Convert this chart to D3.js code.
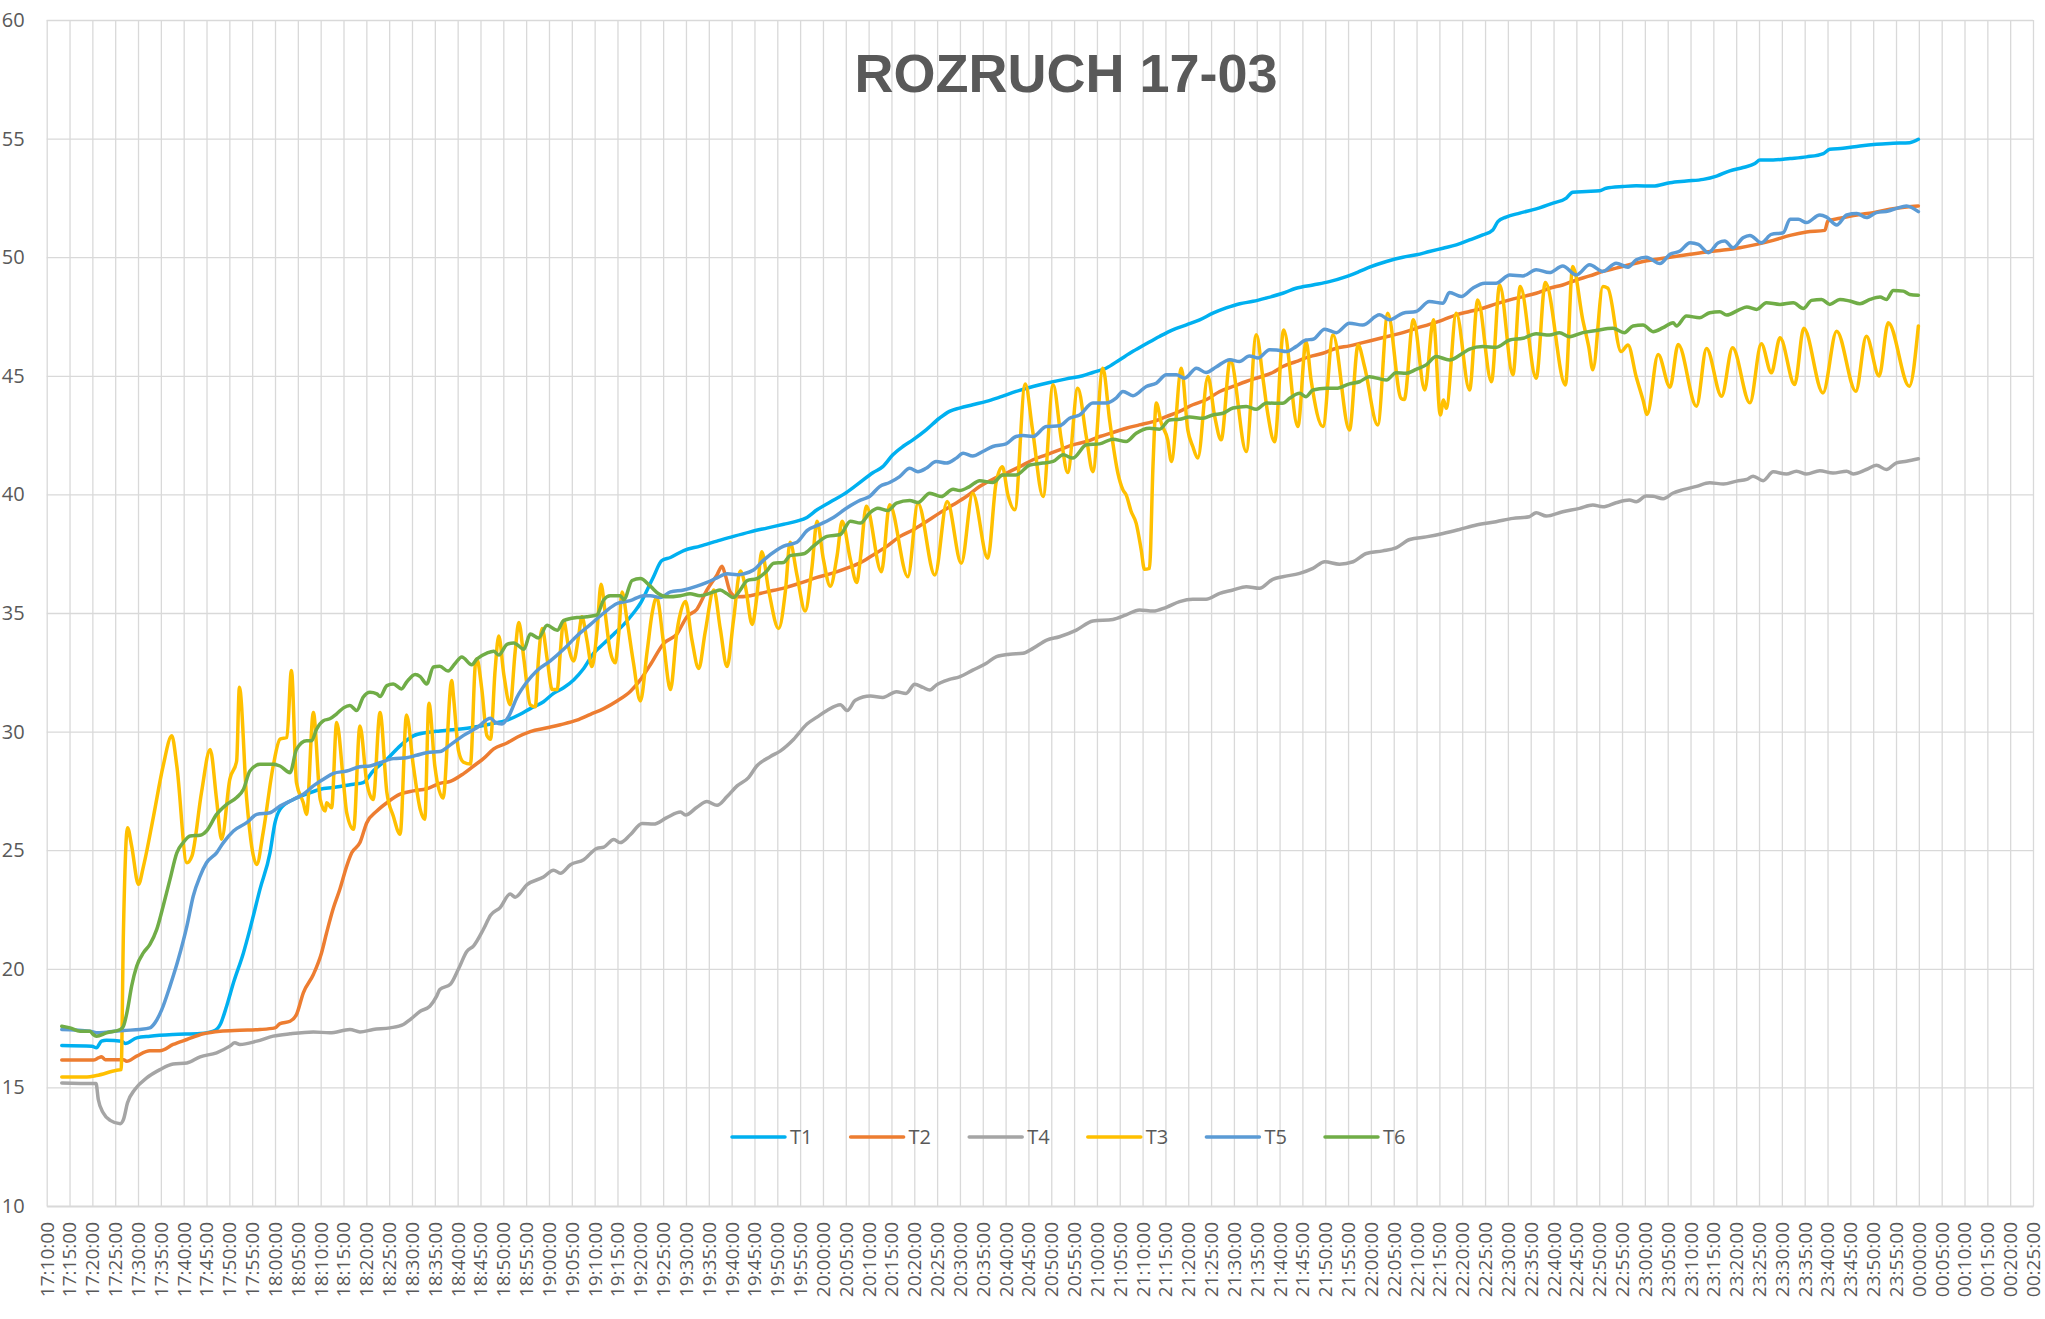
<!DOCTYPE html>
<html><head><meta charset="utf-8">
<script src="https://cdn.jsdelivr.net/npm/d3@7"></script>
<style>html,body{margin:0;padding:0;background:#fff;} svg{display:block}</style>
</head><body>
<svg id="chart" width="2045" height="1319"></svg>
<script>
// ---------------- DATA ----------------
const chartTitle = "ROZRUCH 17-03";
const axisStart = "17:10:00";      // first category label
const axisEnd = "00:25:00";        // last category label (next day)
const tickStepMinutes = 5;
const yTickValues = [10, 15, 20, 25, 30, 35, 40, 45, 50, 55, 60];
const seriesOrder = ["T1", "T2", "T4", "T3", "T5", "T6"];

// each point: [minutes after 17:10:00, temperature]
const T1 = [[3.3,16.77],[9.9,16.74],[10.9,16.67],[12,16.95],[13.1,16.99],[16.4,16.95],[17.2,16.85],[19.7,17.09],[22.6,17.16],[27.7,17.23],[33.6,17.27],[36.5,17.37],[38,17.65],[39.4,18.42],[40.9,19.41],[43.1,20.68],[44.5,21.66],[46.7,23.35],[48.9,24.89],[50,26.16],[51.1,26.72],[54,27.14],[56.9,27.36],[59.9,27.57],[62.8,27.64],[67.2,27.78],[69.3,27.85],[71.5,28.34],[74.5,28.83],[77.4,29.4],[80.3,29.82],[83.2,29.96],[86.1,30.03],[92.8,30.16],[97.2,30.32],[100.8,30.48],[103.7,30.73],[105.9,30.97],[108.8,31.26],[111,31.61],[113.2,31.85],[115.4,32.18],[117.6,32.66],[119.8,33.31],[122,33.71],[124.2,34.11],[126.4,34.52],[128.5,35.0],[130,35.4],[131.5,35.97],[132.9,36.53],[134.7,37.21],[136.6,37.34],[139.5,37.63],[143.1,37.82],[146.8,38.03],[150.4,38.23],[154.1,38.42],[157.7,38.58],[161.4,38.74],[164.3,38.87],[166.5,39.03],[168.7,39.35],[171.6,39.68],[174.5,40.0],[177.4,40.4],[181,40.92],[183.1,41.17],[185.3,41.67],[187.5,42.02],[189.7,42.3],[192.6,42.72],[195.5,43.21],[197.7,43.5],[199.9,43.64],[202.8,43.78],[205.8,43.92],[208.7,44.1],[212.3,44.34],[216,44.55],[219.6,44.72],[223.3,44.87],[226.9,45.0],[229.1,45.14],[232,45.32],[235,45.68],[237.9,46.03],[240.8,46.35],[243.7,46.66],[246.6,46.94],[249.6,47.15],[252.5,47.36],[255.4,47.64],[258.3,47.86],[261.3,48.04],[264.2,48.14],[267.1,48.28],[270.7,48.48],[273.6,48.69],[277.3,48.83],[280.9,48.97],[284.6,49.18],[287.5,49.4],[289.7,49.58],[293.4,49.82],[297,50.0],[300,50.1],[302.8,50.24],[305.8,50.38],[308.7,50.52],[311.6,50.73],[314.5,50.94],[316.7,51.15],[317.8,51.5],[319.6,51.69],[322.6,51.86],[326.2,52.04],[329.9,52.28],[332.8,52.49],[334.2,52.74],[337.2,52.77],[340.1,52.8],[341.5,52.91],[345.2,52.98],[348.1,53.01],[351.8,53.0],[355.5,53.14],[359.1,53.21],[362.8,53.28],[365.7,53.42],[368.6,53.64],[371.5,53.78],[374.1,53.95],[375.2,54.1],[378.1,54.1],[381.8,54.16],[385.4,54.23],[389.1,54.37],[390.5,54.55],[393.4,54.59],[397.1,54.69],[400.7,54.76],[404.4,54.8],[408,54.83],[409.9,54.97]];

const T2 = [[3.3,16.15],[10.2,16.15],[11.3,16.24],[12,16.29],[12.8,16.17],[16.8,16.17],[17.5,16.1],[19.7,16.32],[22.6,16.55],[24.8,16.55],[27.7,16.81],[30.7,17.02],[34.3,17.26],[38,17.37],[42.3,17.41],[46.7,17.44],[50,17.51],[51.1,17.69],[53.3,17.79],[54.7,18.07],[56.2,18.99],[58.4,19.76],[60.2,20.68],[61.3,21.52],[62.8,22.57],[64.2,23.35],[65.7,24.33],[66.8,24.89],[68.6,25.32],[70.1,26.16],[72.3,26.65],[74.5,27.0],[77.4,27.36],[80.3,27.5],[83.2,27.59],[86.1,27.82],[88.4,27.9],[91.3,28.23],[93.5,28.55],[95.7,28.87],[97.9,29.27],[100.8,29.52],[103,29.76],[105.9,30.0],[109.6,30.16],[112.5,30.29],[116.1,30.48],[119.1,30.73],[122,30.97],[124.9,31.29],[127.8,31.69],[130,32.18],[132.2,32.82],[135.1,33.71],[138,34.11],[140.2,34.84],[142.4,35.16],[144.6,35.97],[146.8,36.61],[147.9,36.97],[148.6,36.61],[149.7,35.89],[151.2,35.68],[154.1,35.73],[157.7,35.89],[161.4,36.05],[165,36.26],[168.7,36.5],[172.3,36.69],[176,36.94],[178,37.1],[181,37.45],[183.9,37.8],[186.8,38.22],[189.7,38.5],[192.6,38.85],[195.5,39.21],[198.5,39.56],[201.4,39.91],[204.3,40.33],[207.2,40.64],[210.1,40.89],[213.1,41.17],[216,41.46],[218.9,41.67],[221.8,41.88],[224.7,42.09],[227.7,42.23],[230.6,42.44],[233.5,42.61],[236.4,42.79],[239.3,42.93],[242.3,43.07],[245.2,43.28],[248.1,43.5],[251,43.78],[253.9,43.99],[256.9,44.34],[259.8,44.55],[262.7,44.76],[265.6,44.94],[268.5,45.14],[270.7,45.39],[273.6,45.6],[276.6,45.81],[279.5,45.95],[282.4,46.16],[285.3,46.26],[288.2,46.4],[291.2,46.54],[294.1,46.68],[297,46.82],[299.9,47.0],[302.8,47.17],[305.8,47.36],[308.7,47.57],[311.6,47.71],[314.5,47.85],[317.4,48.03],[320.4,48.2],[323.3,48.34],[326.2,48.48],[329.1,48.69],[332,48.83],[335,49.04],[337.9,49.21],[340.8,49.4],[343.7,49.54],[346.6,49.68],[349.6,49.82],[352.6,49.91],[356.2,50.02],[359.9,50.12],[363.5,50.22],[367.2,50.3],[370.8,50.4],[374.5,50.54],[378.1,50.71],[381.8,50.92],[385.4,51.06],[389.4,51.13],[390.1,51.53],[392.7,51.64],[396.4,51.78],[400,51.88],[403.6,52.02],[407.3,52.12],[409.9,52.16]];

const T4 = [[3.3,15.19],[10.2,15.16],[10.8,15.16],[11.3,14.49],[12.4,13.92],[13.9,13.61],[16.1,13.47],[16.8,13.64],[17.7,14.35],[19.3,14.91],[21.9,15.4],[24.8,15.75],[27.7,15.99],[30.7,16.03],[33.6,16.29],[37.2,16.46],[40.1,16.74],[41.2,16.88],[42.3,16.81],[46,16.95],[49.6,17.16],[53.3,17.26],[58.4,17.34],[62,17.3],[66.4,17.44],[68.6,17.34],[71.5,17.44],[75.2,17.51],[78.1,17.65],[79.6,17.86],[81.8,18.21],[83.9,18.42],[85.4,18.85],[86.1,19.13],[88.4,19.35],[90.2,20.0],[92,20.73],[93.5,20.97],[95.7,21.69],[97.2,22.26],[99.3,22.58],[101.5,23.15],[102.6,23.02],[105.2,23.55],[108.8,23.87],[111,24.16],[112.5,24.03],[114.7,24.39],[117.6,24.6],[120.5,25.08],[122,25.13],[124.2,25.45],[125.6,25.32],[127.8,25.65],[130.4,26.13],[132.9,26.1],[135.8,26.37],[138.8,26.61],[139.9,26.48],[142.4,26.81],[144.6,27.05],[146.8,26.89],[149,27.26],[151.2,27.71],[153.7,28.06],[155.5,28.55],[158.5,28.95],[160.7,29.19],[163.6,29.68],[166.5,30.32],[168.7,30.61],[170.9,30.89],[173.8,31.13],[175.3,30.89],[177.1,31.32],[180.4,31.5],[183.1,31.44],[186.1,31.68],[188.2,31.61],[190.1,32.0],[191.9,31.86],[193.4,31.75],[194.8,31.96],[197.7,32.2],[199.9,32.31],[202.8,32.59],[205.8,32.88],[208,33.16],[210.9,33.26],[213.8,33.3],[216,33.51],[219,33.86],[221.8,34.0],[225.5,34.28],[229.1,34.66],[233.5,34.73],[236.4,34.92],[239.3,35.13],[242.3,35.08],[245.2,35.24],[248.1,35.48],[251,35.58],[253.9,35.58],[256.9,35.83],[259.8,35.97],[262.7,36.11],[265.6,36.04],[268.5,36.42],[270.7,36.53],[274.4,36.67],[277.3,36.88],[279.9,37.16],[283.1,37.06],[286.1,37.16],[289,37.51],[292.6,37.62],[295.5,37.75],[298.5,38.1],[302.1,38.21],[305.8,38.35],[309.4,38.52],[313.1,38.71],[317.4,38.85],[321.1,38.99],[324.7,39.06],[326.2,39.23],[328.4,39.09],[332,39.27],[335.7,39.41],[338.6,39.55],[340.8,39.48],[343.7,39.65],[346.6,39.76],[348.1,39.69],[350.3,39.93],[351.8,39.92],[354,39.82],[356.2,40.06],[358.4,40.2],[361.3,40.34],[364.2,40.49],[367.2,40.44],[370.1,40.56],[372.3,40.63],[373.7,40.77],[375.9,40.58],[378.1,40.95],[381,40.86],[383.2,40.98],[385.4,40.86],[388.3,41.0],[391.2,40.9],[394.2,40.98],[395.6,40.86],[398.5,41.05],[400.7,41.23],[402.9,41.05],[405.1,41.33],[407.3,41.4],[409.9,41.5]];

const T3 = [[3.3,15.44],[8.8,15.44],[10.9,15.5],[15.3,15.72],[16.3,15.75],[16.8,21.52],[17.7,25.95],[18.6,25.18],[20.1,23.56],[21.2,24.33],[23.4,26.44],[25.5,28.55],[27.4,29.82],[28.5,28.55],[30.7,24.47],[31.8,24.75],[33.9,27.43],[35.8,29.25],[37.2,27.14],[38.3,25.46],[40.1,27.99],[41.6,28.76],[42.2,31.87],[43.8,27.14],[46,24.4],[47.4,25.74],[49.6,28.55],[51.1,29.68],[52.6,29.75],[53.6,32.58],[54.7,27.85],[56.2,27.0],[56.9,26.51],[58.4,30.8],[59.9,27.14],[61,26.65],[61.3,27.0],[62.4,26.79],[63.5,30.38],[65,27.85],[65.7,26.58],[67.2,25.88],[68.6,30.24],[70.1,27.85],[71.5,27.14],[73,30.8],[74.5,27.43],[75.9,26.44],[77.4,25.67],[78.8,30.7],[80.3,28.55],[81.8,26.72],[82.8,26.3],[83.7,31.2],[85,28.55],[86.8,27.2],[88.7,32.15],[89.1,31.45],[90.2,29.19],[91.3,28.71],[92.8,28.63],[93.9,32.9],[94.2,33.06],[95.3,31.77],[96.4,29.84],[97.2,29.68],[98.2,32.58],[99,34.03],[100.1,32.42],[101.5,31.13],[102.6,33.39],[103.4,34.6],[104.5,33.06],[105.9,31.13],[107,31.05],[107.7,33.06],[108.5,34.35],[109.6,33.06],[110.7,31.77],[111.8,31.77],[112.5,33.39],[113.2,34.68],[114.3,33.55],[115.4,32.98],[116.5,34.03],[117.2,34.84],[118.3,33.87],[119.4,32.74],[120.5,34.19],[121.4,36.21],[122.3,35.0],[123.4,33.39],[124.5,32.9],[125.3,34.19],[126,35.89],[127.1,34.68],[128.5,32.9],[130,31.29],[131.5,33.39],[132.6,35.0],[133.6,35.65],[135.1,33.71],[136.6,31.77],[138,34.19],[139.9,35.48],[141.3,33.87],[142.8,32.66],[144.2,34.19],[146.1,35.97],[147.5,34.35],[149,32.74],[150.4,34.68],[151.9,36.77],[153,36.13],[154.5,34.52],[155.5,35.65],[156.6,37.58],[158.1,35.97],[160.3,34.35],[161.8,35.97],[162.8,37.98],[164.3,36.61],[166.1,35.08],[167.6,36.94],[168.7,38.87],[170.1,37.26],[171.6,36.13],[173.1,37.42],[174.2,38.87],[176,37.26],[177.4,36.29],[178.2,37.3],[179.5,39.5],[182.8,36.74],[184.6,39.56],[188.6,36.53],[190.8,39.63],[194.5,36.6],[197.2,39.7],[200.3,37.1],[202.8,40.05],[206.1,37.31],[207.9,40.47],[209.3,41.17],[210.5,39.98],[212,39.35],[214.3,44.65],[215.9,42.72],[218.2,39.91],[220.4,44.62],[222.2,42.3],[223.6,40.92],[225.8,44.48],[227.7,42.4],[229.1,40.96],[231.3,45.32],[232.8,43.1],[234.6,40.89],[235.7,40.19],[236.4,39.98],[237.5,39.28],[238.6,38.78],[239.7,37.66],[240.4,36.84],[241.5,36.88],[242.3,41.32],[243,43.85],[244.1,43.0],[245.5,42.3],[246.3,41.39],[248.5,45.32],[249.9,42.72],[251,42.02],[252.1,41.53],[254.3,44.97],[255.8,43.28],[257.2,42.3],[259.2,45.68],[262.7,41.81],[264.9,46.73],[266.4,44.83],[267.4,43.42],[268.9,42.22],[270.9,46.93],[274,42.86],[275.8,46.44],[276.9,44.82],[279.5,42.86],[281.7,46.72],[285.3,42.71],[287.2,46.3],[288.6,45.39],[291.5,42.93],[293.7,47.64],[296.6,44.05],[297.3,44.0],[299.3,47.36],[301.8,44.4],[303.7,47.36],[305.2,43.35],[305.9,43.98],[306.5,43.63],[308.7,47.64],[311.6,44.4],[313.4,48.2],[316.4,44.75],[318.2,48.83],[321.1,45.04],[322.7,48.76],[326.2,44.9],[328.2,48.93],[332.6,44.61],[334.2,49.61],[336.4,47.36],[337.7,46.23],[338.6,45.25],[340.8,48.76],[341.9,48.69],[344.8,46.02],[346.3,46.3],[348.1,44.96],[349.6,43.98],[350.5,43.37],[352.9,45.9],[355.5,44.52],[357.3,46.32],[361.3,43.72],[363.5,46.15],[366.8,44.14],[369.2,46.18],[373,43.86],[375.5,46.35],[377.7,45.13],[379.6,46.6],[382.8,44.63],[384.8,47.0],[389,44.28],[392,46.88],[396.2,44.35],[398.5,46.67],[401.3,44.99],[403.3,47.24],[407.9,44.56],[409.9,47.1]];

const T5 = [[3.3,17.44],[9.5,17.37],[10.9,17.3],[13.1,17.33],[16.8,17.4],[20.4,17.44],[22.6,17.51],[23.7,17.72],[25.2,18.28],[27,19.27],[28.8,20.39],[30.7,21.8],[32.1,23.07],[33.6,23.91],[35,24.47],[37.2,24.89],[38.7,25.32],[40.9,25.81],[43.8,26.16],[46,26.51],[48.9,26.58],[51.1,26.86],[54,27.14],[56.2,27.36],[58.4,27.71],[60.6,27.99],[62.8,28.24],[65.7,28.34],[68.6,28.52],[70.8,28.55],[73,28.69],[75.9,28.86],[78.8,28.9],[81,29.0],[83.2,29.11],[86.1,29.16],[88.4,29.44],[91.3,29.84],[94.2,30.16],[97.2,30.56],[98.2,30.4],[99.7,30.32],[101.2,30.65],[103,31.45],[105.2,32.1],[107.4,32.58],[110.3,32.98],[113.2,33.47],[116.1,34.03],[119.1,34.52],[122,35.0],[124.9,35.4],[127.8,35.52],[130.7,35.73],[132.2,35.73],[134.4,35.65],[136.6,35.89],[139.5,35.97],[142.4,36.13],[144.6,36.29],[146.8,36.48],[149,36.65],[151.2,36.61],[152.6,36.65],[154.8,36.81],[157,37.23],[159.9,37.66],[161.4,37.82],[164.3,37.98],[166.5,38.47],[169.4,38.74],[172.3,39.03],[175.3,39.44],[178.2,39.76],[180.2,39.91],[182.4,40.33],[184.6,40.5],[186.8,40.75],[189,41.1],[190.8,40.96],[192.6,41.1],[194.8,41.39],[197,41.32],[199.2,41.53],[200.7,41.74],[202.8,41.62],[205,41.81],[207.2,42.02],[210.1,42.13],[212.3,42.44],[213.8,42.48],[216,42.44],[218.9,42.86],[221.8,42.89],[224,43.21],[226.2,43.35],[229.1,43.85],[232,43.85],[234.2,44.06],[235.7,44.34],[237.9,44.16],[240.8,44.55],[243,44.69],[245.2,45.04],[247.4,45.04],[249.2,44.9],[251.8,45.32],[253.9,45.14],[256.1,45.37],[259.1,45.68],[261.2,45.6],[263.4,45.84],[265.3,45.75],[267.8,46.1],[269.3,46.09],[271.5,46.02],[273.6,46.23],[275.8,46.51],[277.3,46.54],[279.9,46.96],[282.4,46.82],[285.3,47.22],[288.2,47.14],[291.9,47.57],[294.1,47.36],[297,47.64],[299.9,47.71],[302.8,48.13],[305.8,48.06],[307.2,48.51],[309.8,48.34],[312.3,48.69],[314.9,48.9],[317.4,48.9],[320.4,49.25],[323.3,49.21],[326.2,49.47],[329.1,49.35],[332,49.63],[335,49.25],[337.9,49.68],[340.8,49.4],[343.7,49.75],[346.3,49.58],[348.1,49.89],[350.3,50.0],[353.3,49.73],[355.5,50.12],[357.7,50.26],[359.9,50.61],[361.7,50.54],[363.9,50.19],[366.1,50.61],[367.5,50.68],[369.3,50.4],[371.5,50.82],[373,50.92],[375.5,50.61],[377.7,50.96],[380.3,51.03],[381.8,51.6],[383.6,51.6],[385.4,51.46],[388.3,51.78],[389.8,51.69],[392,51.36],[394.2,51.78],[396.4,51.84],[398.5,51.67],[400.7,51.88],[403.3,51.95],[405.1,52.06],[407.3,52.16],[409.9,51.92]];

const T6 = [[3.3,17.58],[5.1,17.51],[7.3,17.37],[9.5,17.37],[10.2,17.23],[10.9,17.16],[13.1,17.3],[16.1,17.44],[16.8,17.58],[17.7,18.28],[18.6,19.27],[19.7,20.11],[21.2,20.68],[22.6,21.03],[24.1,21.66],[25.5,22.64],[27,23.77],[28.5,24.89],[29.9,25.32],[31.4,25.6],[33.6,25.63],[35,25.81],[37.2,26.51],[39.4,26.93],[41.6,27.22],[43.1,27.57],[44.5,28.34],[46.7,28.62],[49.6,28.62],[51.1,28.55],[53.3,28.27],[54.7,29.25],[56.9,29.61],[58,29.61],[59.1,30.1],[60.6,30.46],[62,30.54],[63.5,30.75],[65,31.0],[66.4,31.1],[67.9,30.89],[69.3,31.45],[70.8,31.66],[72.3,31.59],[73,31.48],[74.5,31.94],[75.9,32.01],[77.7,31.8],[78.8,32.08],[80.7,32.41],[81.8,32.32],[83.2,32.01],[84.7,32.72],[86.1,32.75],[87.9,32.55],[89.4,32.86],[90.9,33.15],[93.1,32.82],[94.2,33.06],[96.4,33.31],[97.9,33.39],[99,33.23],[100.8,33.68],[102.3,33.74],[104.5,33.47],[105.9,34.11],[107.7,33.95],[109.6,34.48],[111.8,34.27],[113.2,34.68],[116.1,34.81],[118.3,34.84],[120.5,34.92],[122,35.56],[123.4,35.73],[125.6,35.73],[126.4,35.56],[128.2,36.37],[130,36.45],[132.2,36.13],[134,35.81],[135.8,35.68],[138.8,35.73],[140.9,35.81],[143.1,35.73],[146.1,35.89],[147.5,35.97],[149,35.81],[150.4,35.65],[151.9,35.97],[153.4,36.37],[155.5,36.45],[157.7,36.77],[159.2,37.1],[161.4,37.13],[162.8,37.42],[165.8,37.5],[167.9,37.82],[170.9,38.23],[173.8,38.31],[176,38.87],[178.2,38.79],[180.2,39.21],[182,39.42],[184.2,39.32],[186.1,39.63],[189,39.74],[190.8,39.66],[193.4,40.05],[195.9,39.91],[198.5,40.22],[199.9,40.16],[202.1,40.33],[204.3,40.58],[207.2,40.5],[209.4,40.82],[212.3,40.82],[215.3,41.24],[218.2,41.32],[220.4,41.39],[222.6,41.67],[224.7,41.53],[227.7,42.09],[230.6,42.13],[233.5,42.33],[236.4,42.23],[238.6,42.58],[241.5,42.79],[243.7,42.75],[245.9,43.14],[248.1,43.17],[250.3,43.26],[253.2,43.21],[255.4,43.35],[257.6,43.42],[259.8,43.64],[262.7,43.71],[264.9,43.59],[267.1,43.85],[270.7,43.84],[272.2,44.05],[274.4,44.26],[275.8,44.12],[277.3,44.4],[280.2,44.47],[282.4,44.47],[285.3,44.66],[287.5,44.75],[289.7,44.96],[293.4,44.82],[295.5,45.13],[297.7,45.11],[299.9,45.27],[302.1,45.46],[304.3,45.81],[307.2,45.67],[310.1,45.95],[311.6,46.12],[314.5,46.23],[317.4,46.2],[320.4,46.51],[323.3,46.58],[326.2,46.77],[329.1,46.72],[331.3,46.82],[333.5,46.65],[336.4,46.82],[339.3,46.91],[343,47.0],[345.5,46.82],[347.4,47.1],[349.6,47.14],[351.8,46.86],[354,47.03],[356.2,47.24],[356.9,47.1],[359.1,47.52],[362,47.45],[364.2,47.66],[366.4,47.7],[367.9,47.56],[370.8,47.8],[372.3,47.9],[374.5,47.8],[376.6,48.08],[379.6,48.01],[382.5,48.08],[384.7,47.84],[386.5,48.18],[388.7,48.22],[390.5,48.01],[392.7,48.22],[394.9,48.15],[397.1,48.04],[399.3,48.22],[401.5,48.32],[402.9,48.22],[404.4,48.6],[406.6,48.57],[408,48.43],[409.9,48.4]];

// ---------------- STYLE / LAYOUT ----------------
const seriesData = { T1, T2, T4, T3, T5, T6 };
const colors = { T1: "#00B0F0", T2: "#ED7D31", T4: "#A5A5A5", T3: "#FFC000", T5: "#5B9BD5", T6: "#70AD47" };
const plot = { left: 46.7, right: 2033, top: 20, bottom: 1206 };
const labelFont = "'Open Sans', 'Liberation Sans', sans-serif";
const textColor = "#595959";

const svg = d3.select("#chart");
svg.append("rect").attr("width", 2045).attr("height", 1319).attr("fill", "#fff");

const parseT = d3.timeParse("%Y-%m-%d %H:%M:%S");
const t0 = parseT("2000-03-17 " + axisStart);
const t1 = parseT("2000-03-18 " + axisEnd);
const toDate = m => new Date(t0.getTime() + m * 60000);

const x = d3.scaleTime().domain([t0, t1]).range([plot.left, plot.right]);
const y = d3.scaleLinear().domain([d3.min(yTickValues), d3.max(yTickValues)]).range([plot.bottom, plot.top]);

// vertical gridlines + x labels
const xAxis = d3.axisBottom(x)
  .ticks(d3.timeMinute.every(tickStepMinutes))
  .tickFormat(d3.timeFormat("%H:%M:%S"))
  .tickSize(-(plot.bottom - plot.top))
  .tickSizeOuter(0);
const gx = svg.append("g").attr("transform", `translate(0,${plot.bottom})`).call(xAxis);
gx.selectAll(".tick line").attr("stroke", "#d9d9d9").attr("stroke-width", 1.3);
gx.select(".domain").attr("stroke", "#c6c6c6").attr("stroke-width", 1.5);
gx.selectAll(".tick text")
  .attr("transform", "rotate(-90)")
  .attr("x", -16).attr("y", 0).attr("dy", "0.34em")
  .attr("text-anchor", "end")
  .attr("fill", textColor)
  .style("font-family", labelFont).style("font-size", "19px");

// horizontal gridlines + y labels
const yAxis = d3.axisLeft(y).tickValues(yTickValues)
  .tickSize(-(plot.right - plot.left)).tickPadding(22).tickSizeOuter(0);
const gy = svg.append("g").attr("transform", `translate(${plot.left},0)`).call(yAxis);
gy.select(".domain").remove();
gy.selectAll(".tick line").attr("stroke", "#d9d9d9").attr("stroke-width", 1.3);
gy.selectAll(".tick text").attr("fill", textColor)
  .style("font-family", labelFont).style("font-size", "20px");

// title
svg.append("text").attr("x", 1066).attr("y", 92).attr("text-anchor", "middle")
  .attr("fill", textColor)
  .style("font-family", "'Liberation Sans', Arial, sans-serif")
  .style("font-weight", "bold").style("font-size", "54px")
  .text(chartTitle);

// lines
const line = d3.line()
  .x(d => x(toDate(d[0])))
  .y(d => y(d[1]))
  .curve(d3.curveMonotoneX);

seriesOrder.forEach(name => {
  svg.append("path")
    .datum(seriesData[name])
    .attr("d", line)
    .attr("fill", "none")
    .attr("stroke", colors[name])
    .attr("stroke-width", 3.5)
    .attr("stroke-linejoin", "round")
    .attr("stroke-linecap", "round");
});

// legend
const legend = svg.append("g").attr("transform", "translate(732,1137)");
seriesOrder.forEach((name, i) => {
  const g = legend.append("g").attr("transform", `translate(${i * 118.6},0)`);
  g.append("line").attr("x1", 0).attr("x2", 53).attr("y1", 0).attr("y2", 0)
    .attr("stroke", colors[name]).attr("stroke-width", 3.5).attr("stroke-linecap", "round");
  g.append("text").attr("x", 58).attr("y", 0).attr("dy", "0.36em")
    .attr("fill", textColor)
    .style("font-family", labelFont).style("font-size", "20px")
    .text(name);
});
</script>
</body></html>
